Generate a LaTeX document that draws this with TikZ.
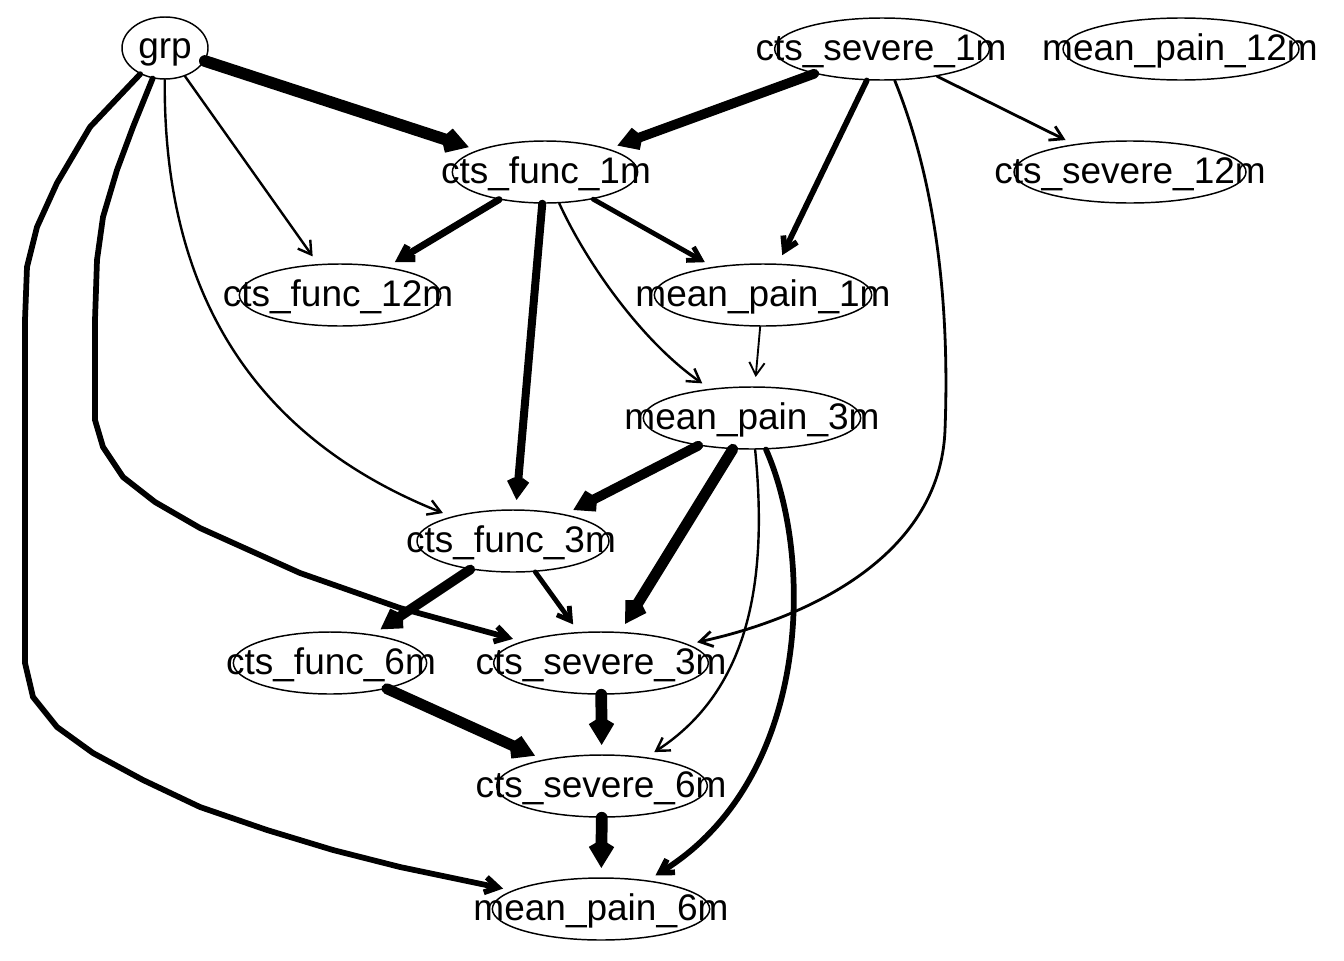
\documentclass[tikz,border=0pt]{standalone}
\usepackage{fontspec}
\setmainfont{Liberation Sans}
\usetikzlibrary{shapes.geometric,arrows.meta}

\begin{document}
\begin{tikzpicture}[x=0.75pt,y=-0.75pt,
  vtx/.style={ellipse, draw, line width=1.1pt, inner sep=0pt, minimum height=46.5pt, minimum width=#1},
  lbl/.style={font=\fontsize{27.75}{32}\selectfont, anchor=base, inner sep=0pt, yshift=-8.8pt},
  edge/.style={line join=round, line cap=round, shorten >=7pt,
    -{Straight Barb[length=9.5pt,width=11.5pt]}},
  e0/.style={edge, line width=1.4pt},
  e1/.style={edge, line width=1.8pt},
  e2/.style={edge, line width=2.1pt},
  e3/.style={edge, line width=3.6pt},
  e4/.style={edge, line width=4.3pt},
  e5/.style={edge, line width=5.2pt},
  e6/.style={edge, line width=6pt},
  e7/.style={edge, line width=7.3pt},
  e8/.style={edge, line width=8.2pt},
  e9/.style={edge, line width=8.8pt}]

\path[use as bounding box] (0,0) rectangle (1344,960);

% vertices
\node[vtx=64.5pt] (grp)  at (165,48)  {};
\node[vtx=161pt]  (cs1)  at (882,49)  {};
\node[vtx=177pt]  (mp12) at (1181,49) {};
\node[vtx=139pt]  (cf1)  at (545,172) {};
\node[vtx=174pt]  (cs12) at (1130,172) {};
\node[vtx=151pt]  (cf12) at (340,295) {};
\node[vtx=163pt]  (mp1)  at (763,295) {};
\node[vtx=163pt]  (mp3)  at (752,418) {};
\node[vtx=144pt]  (cf3)  at (513,541) {};
\node[vtx=145pt]  (cf6)  at (330,663) {};
\node[vtx=161pt]  (cs3)  at (601,663) {};
\node[vtx=158pt]  (cs6)  at (602,786) {};
\node[vtx=163pt]  (mp6)  at (601,909) {};

% labels
\node[lbl, yshift=1.3pt] (grp-t) at (grp) {grp};
\node[lbl] (cs1-t)  at (881,49)  {cts\_severe\_1m};
\node[lbl] (mp12-t) at (1180,49) {mean\_pain\_12m};
\node[lbl] (cf1-t)  at (546,172) {cts\_func\_1m};
\node[lbl] (cs12-t) at (1130,172) {cts\_severe\_12m};
\node[lbl] (cf12-t) at (338,295) {cts\_func\_12m};
\node[lbl] (mp1-t)  at (763,295) {mean\_pain\_1m};
\node[lbl] (mp3-t)  at (752,418) {mean\_pain\_3m};
\node[lbl] (cf3-t)  at (511,541) {cts\_func\_3m};
\node[lbl] (cf6-t)  at (331,663) {cts\_func\_6m};
\node[lbl] (cs3-t)  at (601,663) {cts\_severe\_3m};
\node[lbl] (cs6-t)  at (601,786) {cts\_severe\_6m};
\node[lbl] (mp6-t)  at (601,909) {mean\_pain\_6m};

% straight edges
\draw[e9] (grp) -- (cf1);
\draw[e1] (grp) -- (cf12);
\draw[e7] (cs1) -- (cf1);
\draw[e4] (cs1) -- (mp1);
\draw[e2] (cs1) -- (cs12);
\draw[e5] (cf1) -- (cf12);
\draw[e3] (cf1) -- (mp1);
\draw[e6] (cf1) -- (cf3);
\draw[e0] (mp1) -- (mp3);
\draw[e7] (mp3) -- (cf3);
\draw[e8] (mp3) -- (cs3);
\draw[e7] (cf3) -- (cf6);
\draw[e3] (cf3) -- (cs3);
\draw[e8] (cf6) -- (cs6);
\draw[e9] (cs3) -- (cs6);
\draw[e9] (cs6) -- (mp6);

% curved edges
\draw[e1] (grp) .. controls (163,300) and (260,440) .. (cf3);
\draw[e4] (grp) -- (133,127) -- (117,170) -- (103,217) -- (97,260) -- (95,320) -- (95,420)
  -- (103,447) -- (123,477) -- (155,502) -- (200,528) -- (300,573) -- (400,608) -- (cs3);
\draw[e4] (grp) -- (90,127) -- (57,183) -- (37,227) -- (27,267) -- (25,320) -- (25,663)
  -- (33,697) -- (57,727) -- (93,753) -- (143,780) -- (200,807) -- (267,830)
  -- (333,850) -- (400,867) -- (mp6);
\draw[e2] (cs1) .. controls (935,180) and (950,300) .. (945,430)
  .. controls (940,560) and (800,620) .. (cs3);
\draw[e1] (cf1) .. controls (585,260) and (640,340) .. (mp3);
\draw[e1] (mp3) .. controls (768,580) and (750,690) .. (cs6);
\draw[e4] (mp3) .. controls (815,560) and (810,780) .. (mp6);

\end{tikzpicture}
\end{document}
